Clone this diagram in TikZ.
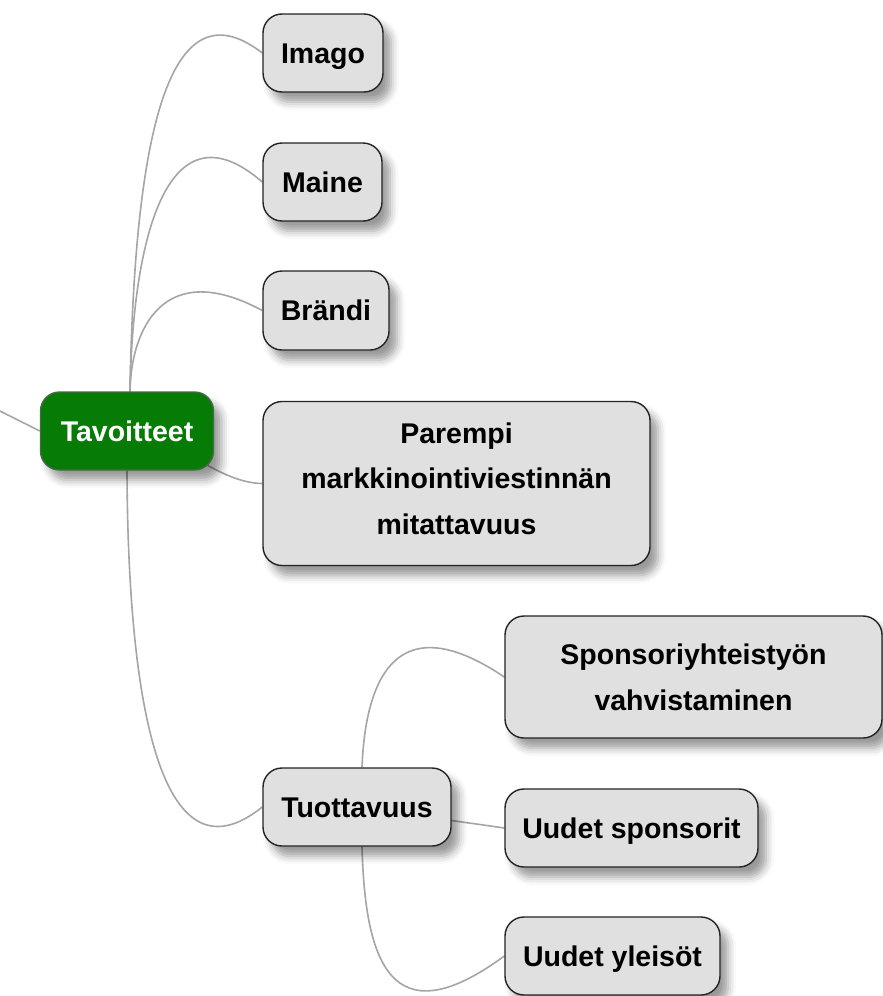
\documentclass[tikz,border=0pt]{standalone}
\usepackage{fontspec}
\setmainfont{Liberation Sans}
\usetikzlibrary{shadows.blur,backgrounds}
\definecolor{boxfill}{RGB}{224,224,224}
\definecolor{boxborder}{RGB}{35,35,35}
\definecolor{linegray}{RGB}{165,165,165}
\definecolor{tgreen}{RGB}{6,124,6}
\definecolor{tborder}{RGB}{70,105,70}
\begin{document}
\begin{tikzpicture}[x=1pt,y=-1pt,
  conn/.style={draw=linegray, line width=1.6pt},
  box/.style={draw=boxborder, line width=1.4pt, fill=boxfill, rounded corners=19pt,
    inner sep=0pt, align=center, text=black,
    font=\bfseries\fontsize{28.5}{45.7}\selectfont,
    blur shadow={shadow xshift=8pt, shadow yshift=-10pt, shadow blur radius=8pt, shadow opacity=40}},
  oneline/.style={text height=20.5pt, text depth=0pt},
  rootbox/.style={box, fill=tgreen, draw=tborder, text=white}
]
\useasboundingbox (0,0) rectangle (883,996);

\node[rootbox, oneline, minimum width=173pt, minimum height=78pt] (tav) at (127,431) {Tavoitteet};
\node[box, oneline, minimum width=120pt, minimum height=78pt] (imago) at (323,53) {Imago};
\node[box, oneline, minimum width=119pt, minimum height=78pt] (maine) at (322.5,182) {Maine};
\node[box, oneline, minimum width=126pt, minimum height=79pt] (brandi) at (326,310.5) {Brändi};
\node[box, text depth=10pt, minimum width=387pt, minimum height=164pt] (parempi) at (456.5,483.5) {Parempi\\markkinointiviestinnän\\mitattavuus};
\node[box, minimum width=377pt, minimum height=122pt] (spons) at (693.5,677) {Sponsoriyhteistyön\\vahvistaminen};
\node[box, oneline, minimum width=188pt, minimum height=78pt] (tuot) at (357,807) {Tuottavuus};
\node[box, oneline, minimum width=253pt, minimum height=78pt] (usp) at (631.5,828) {Uudet sponsorit};
\node[box, oneline, minimum width=215pt, minimum height=78pt] (uyl) at (612.5,956) {Uudet yleisöt};

\coordinate (lft) at (0,411);

\begin{scope}[on background layer]
\draw[conn] (lft) -- (tav.west);
\draw[conn] ([xshift=3pt]tav.north) .. controls (135,100) and (178,-12) .. (imago.west);
\draw[conn] ([xshift=3pt]tav.north) .. controls (133,230) and (170,102) .. (maine.west);
\draw[conn] ([xshift=3pt]tav.north) .. controls (131,330) and (163,257) .. (brandi.west);
\draw[conn] (tav.center) .. controls (170,431) and (215,483) .. (parempi.west);
\draw[conn] (tav.south) .. controls (128,720) and (165,885) .. (tuot.west);
\draw[conn] ([xshift=5pt]tuot.north) .. controls (365,690) and (390,600) .. (spons.west);
\draw[conn] (tuot.center) -- (usp.west);
\draw[conn] ([xshift=5pt]tuot.south) .. controls (365,960) and (390,1040) .. (uyl.west);
\end{scope}
\end{tikzpicture}
\end{document}
